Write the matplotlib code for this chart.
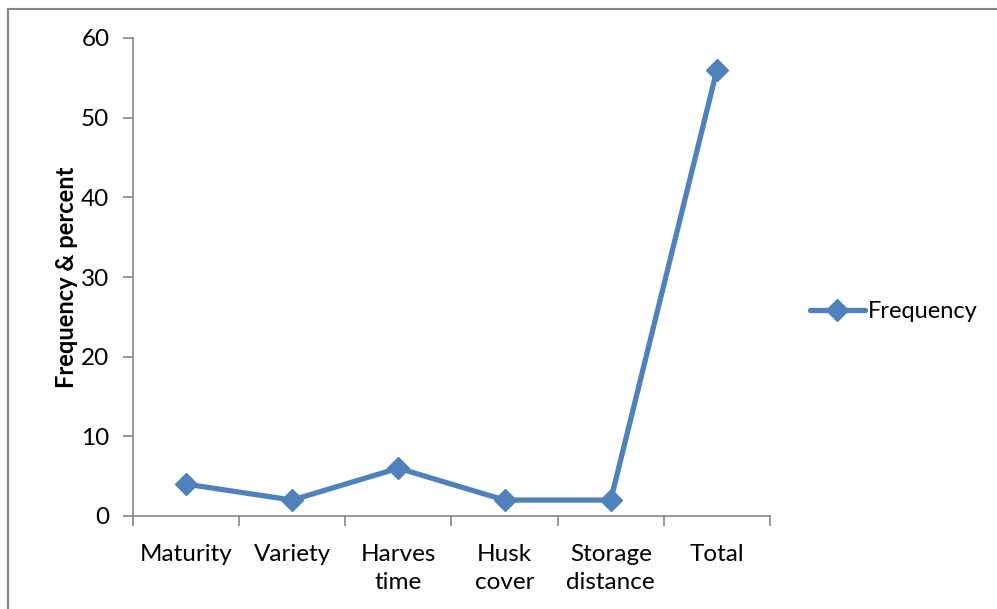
import matplotlib
matplotlib.use("Agg")
import matplotlib.pyplot as plt
from matplotlib.patches import Rectangle

categories = ["Maturity", "Variety", "Harves\ntime", "Husk\ncover", "Storage\ndistance", "Total"]
frequency = [4, 2, 6, 2, 2, 56]
yticks = [0, 10, 20, 30, 40, 50, 60]

plt.rcParams['font.family'] = ['Lato', 'DejaVu Sans']

W, H = 997, 609
fig = plt.figure(figsize=(W/100, H/100), dpi=100)
fig.patches.append(Rectangle((7.5/W, -0.1), 1.2, 1 - 8.5/H + 0.1, transform=fig.transFigure,
                             fill=False, edgecolor='#868686', linewidth=1.5))

ax = fig.add_axes([133/W, 1 - 516/H, (770 - 133)/W, (516 - 38)/H])
x = list(range(len(categories)))
line, = ax.plot(x, frequency, color='#4F81BD', linewidth=3.8, marker='D', markersize=11,
                solid_capstyle='round', label='Frequency')

ax.set_xlim(-0.5, len(categories) - 0.5)
ax.set_ylim(0, 60)
ax.set_yticks(yticks)
ax.set_xticks(x)
ax.set_xticklabels(categories, fontsize=17.5, linespacing=1.45)
ax.set_xticks([i - 0.5 for i in range(len(categories) + 1)], minor=True)
ax.tick_params(axis='x', which='major', length=0, pad=20)
ax.tick_params(axis='x', which='minor', length=7, width=1.2, color='#868686')
ax.tick_params(axis='y', length=7, width=1.2, color='#868686', labelsize=17.5, pad=10)

for s in ['top', 'right']:
    ax.spines[s].set_visible(False)
for s in ['left', 'bottom']:
    ax.spines[s].set_color('#868686')
    ax.spines[s].set_linewidth(1.2)

ax.set_ylabel("Frequency & percent", fontsize=17, fontweight='bold', labelpad=2)

fig.legend(handles=[line], loc='center left', bbox_to_anchor=(789/W, 1 - 312/H),
           frameon=False, fontsize=17, handlelength=2.3, handletextpad=0.15)

fig.savefig("out.png", dpi=100)
